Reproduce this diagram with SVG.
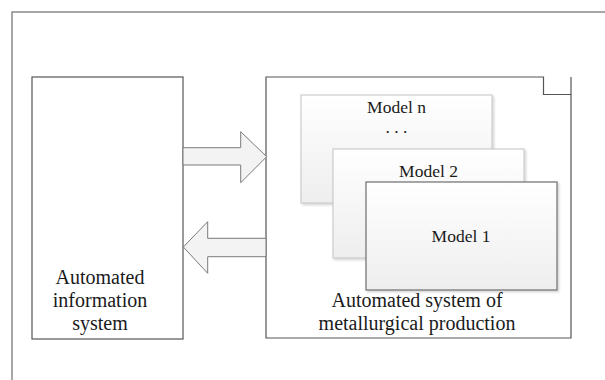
<svg xmlns="http://www.w3.org/2000/svg" width="605" height="380" viewBox="0 0 605 380">
<style>
.t{font-family:"Liberation Serif","Times New Roman",serif;fill:#1a1a1a;text-anchor:middle}
.lbl{font-size:20px}
.m{font-size:17.5px}
.frame{fill:none;stroke:#8a8a8a;stroke-width:1.5}
.box{fill:#fff;stroke:#555;stroke-width:1.2}
.edge{fill:none;stroke:#555;stroke-width:1.2}
.arr{fill:#f3f3f3;stroke:#7a7a7a;stroke-width:1}
.mb{stroke:#c4c4c4;stroke-width:1}
.m1{stroke:#6e6e6e;stroke-width:1.2}
</style>
<defs>
<linearGradient id="g" x1="0" y1="0" x2="0" y2="1">
<stop offset="0" stop-color="#ffffff"/>
<stop offset="1" stop-color="#eeeeee"/>
</linearGradient>
<filter id="sh" x="-5%" y="-5%" width="115%" height="115%">
<feDropShadow dx="1.5" dy="1.5" stdDeviation="1" flood-color="#000" flood-opacity="0.18"/>
</filter>
</defs>
<rect width="605" height="380" fill="#fff"/>
<g id="frame">
<path class="frame" d="M605,12 H12 V380"/>
</g>
<g id="ais">
<rect class="box" x="32" y="77" width="151" height="262"/>
<text class="t lbl" x="100" y="284">Automated</text>
<text class="t lbl" x="100" y="307">information</text>
<text class="t lbl" x="100" y="330">system</text>
</g>
<g id="asmp">
<path class="box" d="M266,77 H543.5 V94.5 H571 V338 H266 Z"/>
<path class="edge" d="M571,77 V94.5"/>
<text class="t lbl" x="417" y="307">Automated system of</text>
<text class="t lbl" x="417" y="330">metallurgical production</text>
</g>
<g id="model-n">
<rect class="mb" x="301" y="95" width="191" height="108" fill="url(#g)" filter="url(#sh)"/>
<text class="t m" x="396.5" y="112.5">Model n</text>
<text class="t m" x="396.5" y="133">. . .</text>
</g>
<g id="model-2">
<rect class="mb" x="333" y="149" width="191" height="109" fill="url(#g)" filter="url(#sh)"/>
<text class="t m" x="428.5" y="177">Model 2</text>
</g>
<g id="model-1">
<rect class="m1" x="366" y="182" width="191" height="108" fill="url(#g)" filter="url(#sh)"/>
<text class="t m" x="461" y="242">Model 1</text>
</g>
<g id="connectors">
<path class="arr" d="M183,147.7 H240.7 V131.7 L266.7,156.7 L240.7,182.7 V165 H183 Z"/>
<path class="arr" d="M266,238.3 H207.7 V221.7 L183.3,247 L207.7,273.3 V256.7 H266 Z"/>
</g>
</svg>
